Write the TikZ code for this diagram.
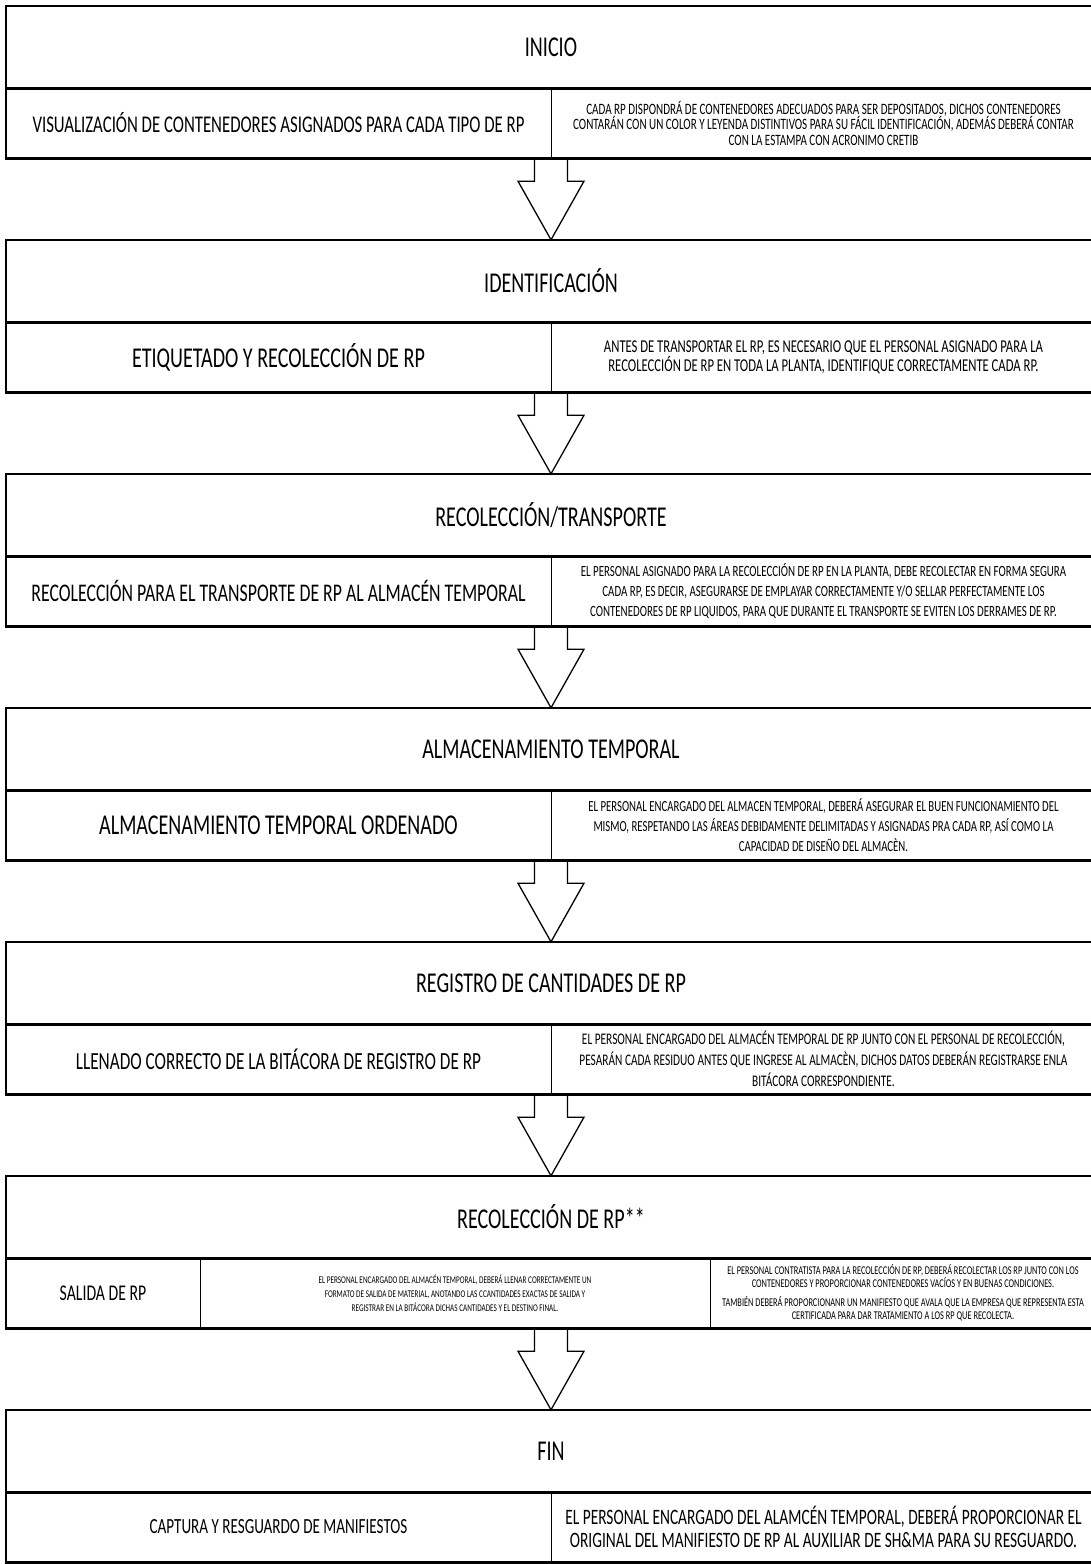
\documentclass[tikz,border=0pt]{standalone}
\usepackage{fontspec}
\setmainfont{Carlito}[FakeStretch=0.70]
\usetikzlibrary{calc}
\newcommand\BlkArr[3]{%
  \coordinate (#1b) at (#1.south |- #2.south);
  \draw[barrow] ($(#1b)+(-16.5,0)$) -- ++(0,23) -- ++(-16.5,0) -- (#1b |- #3.north)
     -- ($(#1b)+(33,23)$) -- ++(-16.5,0) -- ++(0,-23);}
\newcommand\fs[2]{\fontsize{#1}{#2}\selectfont}
\begin{document}
\begin{tikzpicture}[x=1pt,y=-1pt,
  hdr/.style={minimum width=1090pt,minimum height=82pt,inner sep=0pt,font=\fs{28.7}{32}},
  lcell/.style={minimum width=545pt,minimum height=70pt,inner sep=0pt,align=center},
  rcell/.style={minimum width=545pt,minimum height=70pt,inner sep=0pt,align=center},
  boxline/.style={line width=2.6pt,draw=black},
  divline/.style={line width=1pt},
  barrow/.style={line width=1.3pt,line join=miter}]
\useasboundingbox (0,0) rectangle (1090,1564);

% ---- 1
\node[hdr] (h1) at (551,47) {INICIO};
\node[lcell,font=\fs{24}{27}] (l1) at (278.5,123) {VISUALIZACIÓN DE CONTENEDORES ASIGNADOS PARA CADA TIPO DE RP};
\node[rcell,font=\fs{15.8}{15.5}] (r1) at (823.5,123) {CADA RP DISPONDRÁ DE CONTENEDORES ADECUADOS PARA SER DEPOSITADOS, DICHOS CONTENEDORES\\CONTARÁN CON UN COLOR Y LEYENDA DISTINTIVOS PARA SU FÁCIL IDENTIFICACIÓN, ADEMÁS DEBERÁ CONTAR\\CON LA ESTAMPA CON ACRONIMO CRETIB};
% ---- 2
\node[hdr] (h2) at (551,281) {IDENTIFICACIÓN};
\node[lcell,font=\fs{28.7}{32}] (l2) at (278.5,357) {ETIQUETADO Y RECOLECCIÓN DE RP};
\node[rcell,font=\fs{18.1}{19}] (r2) at (823.5,357) {ANTES DE TRANSPORTAR EL RP, ES NECESARIO QUE EL PERSONAL ASIGNADO PARA LA\\RECOLECCIÓN DE RP EN TODA LA PLANTA, IDENTIFIQUE CORRECTAMENTE CADA RP.};
% ---- 3
\node[hdr] (h3) at (551,515) {RECOLECCIÓN/TRANSPORTE};
\node[lcell,font=\fs{25.4}{28}] (l3) at (278.5,591) {RECOLECCIÓN PARA EL TRANSPORTE DE RP AL ALMACÉN TEMPORAL};
\node[rcell,font=\fs{15.6}{20}] (r3) at (823.5,591) {EL PERSONAL ASIGNADO PARA LA RECOLECCIÓN DE RP EN LA PLANTA, DEBE RECOLECTAR  EN FORMA SEGURA\\CADA RP, ES DECIR, ASEGURARSE DE EMPLAYAR CORRECTAMENTE  Y/O SELLAR PERFECTAMENTE  LOS\\CONTENEDORES DE RP LIQUIDOS, PARA QUE DURANTE EL TRANSPORTE SE EVITEN LOS DERRAMES DE RP.};
% ---- 4
\node[hdr] (h4) at (551,749) {ALMACENAMIENTO TEMPORAL};
\node[lcell,font=\fs{28.7}{32}] (l4) at (278.5,825) {ALMACENAMIENTO TEMPORAL ORDENADO};
\node[rcell,font=\fs{15.4}{20}] (r4) at (823.5,825) {EL PERSONAL ENCARGADO DEL ALMACEN TEMPORAL, DEBERÁ ASEGURAR EL BUEN FUNCIONAMIENTO DEL\\MISMO, RESPETANDO LAS ÁREAS DEBIDAMENTE DELIMITADAS Y ASIGNADAS PRA CADA RP, ASÍ COMO LA\\CAPACIDAD DE DISEÑO DEL ALMACÈN.};
% ---- 5
\node[hdr] (h5) at (551,983) {REGISTRO DE CANTIDADES DE RP};
\node[lcell,font=\fs{24.6}{28}] (l5) at (278.5,1059) {LLENADO CORRECTO DE LA BITÁCORA DE REGISTRO DE RP};
\node[rcell,font=\fs{16.2}{21}] (r5) at (823.5,1059) {EL PERSONAL ENCARGADO DEL ALMACÉN TEMPORAL DE RP JUNTO CON EL PERSONAL DE RECOLECCIÓN,\\PESARÁN CADA RESIDUO ANTES QUE INGRESE AL ALMACÈN, DICHOS DATOS DEBERÁN  REGISTRARSE  ENLA\\BITÁCORA CORRESPONDIENTE.};
% ---- 6
\node[hdr] (h6) at (551,1217) {RECOLECCIÓN DE RP**};
\node[lcell,minimum width=194pt,font=\fs{22.5}{24}] (l6) at (103,1293) {SALIDA DE RP};
\node[rcell,minimum width=510pt,font=\fs{10.3}{14}] (m6) at (455,1293) {EL PERSONAL ENCARGADO DEL ALMACÉN TEMPORAL, DEBERÁ LLENAR CORRECTAMENTE UN\\FORMATO DE SALIDA DE MATERIAL, ANOTANDO LAS CCANTIDADES EXACTAS DE SALIDA Y\\REGISTRAR EN LA BITÁCORA DICHAS CANTIDADES Y EL DESTINO FINAL.};
\node[rcell,minimum width=386pt,font=\fs{11.9}{13}] (r6) at (903,1293) {EL PERSONAL CONTRATISTA PARA LA RECOLECCIÓN DE RP, DEBERÁ RECOLECTAR LOS RP JUNTO CON LOS\\CONTENEDORES Y PROPORCIONAR CONTENEDORES VACÍOS Y EN BUENAS CONDICIONES.\\[6pt]TAMBIÉN DEBERÁ PROPORCIONANR UN MANIFIESTO QUE AVALA QUE LA EMPRESA QUE REPRESENTA ESTA\\CERTIFICADA PARA DAR TRATAMIENTO A LOS RP QUE RECOLECTA.};
% ---- 7
\node[hdr] (h7) at (551,1451) {FIN};
\node[lcell,font=\fs{21.6}{24}] (l7) at (278.5,1527) {CAPTURA Y RESGUARDO DE MANIFIESTOS};
\node[rcell,font=\fs{22}{22.5}] (r7) at (823.5,1527) {EL PERSONAL ENCARGADO DEL ALAMCÉN TEMPORAL, DEBERÁ PROPORCIONAR EL\\ORIGINAL DEL MANIFIESTO DE RP AL AUXILIAR DE SH\&MA PARA SU RESGUARDO.};

% ---- boxes
\foreach \i in {1,2,3,4,5,7}{
  \draw[boxline] (h\i.north west) rectangle (h\i.south east);
  \draw[boxline] (l\i.north west) rectangle (r\i.south east);
  \draw[divline] (l\i.north east) -- (l\i.south east);
}
\draw[boxline] (h6.north west) rectangle (h6.south east);
\draw[boxline] (l6.north west) rectangle (r6.south east);
\draw[divline] (l6.north east) -- (l6.south east);
\draw[divline] (m6.north east) -- (m6.south east);

% ---- arrows
\BlkArr{h1}{l1}{h2}
\BlkArr{h2}{l2}{h3}
\BlkArr{h3}{l3}{h4}
\BlkArr{h4}{l4}{h5}
\BlkArr{h5}{l5}{h6}
\BlkArr{h6}{l6}{h7}
\end{tikzpicture}
\end{document}
